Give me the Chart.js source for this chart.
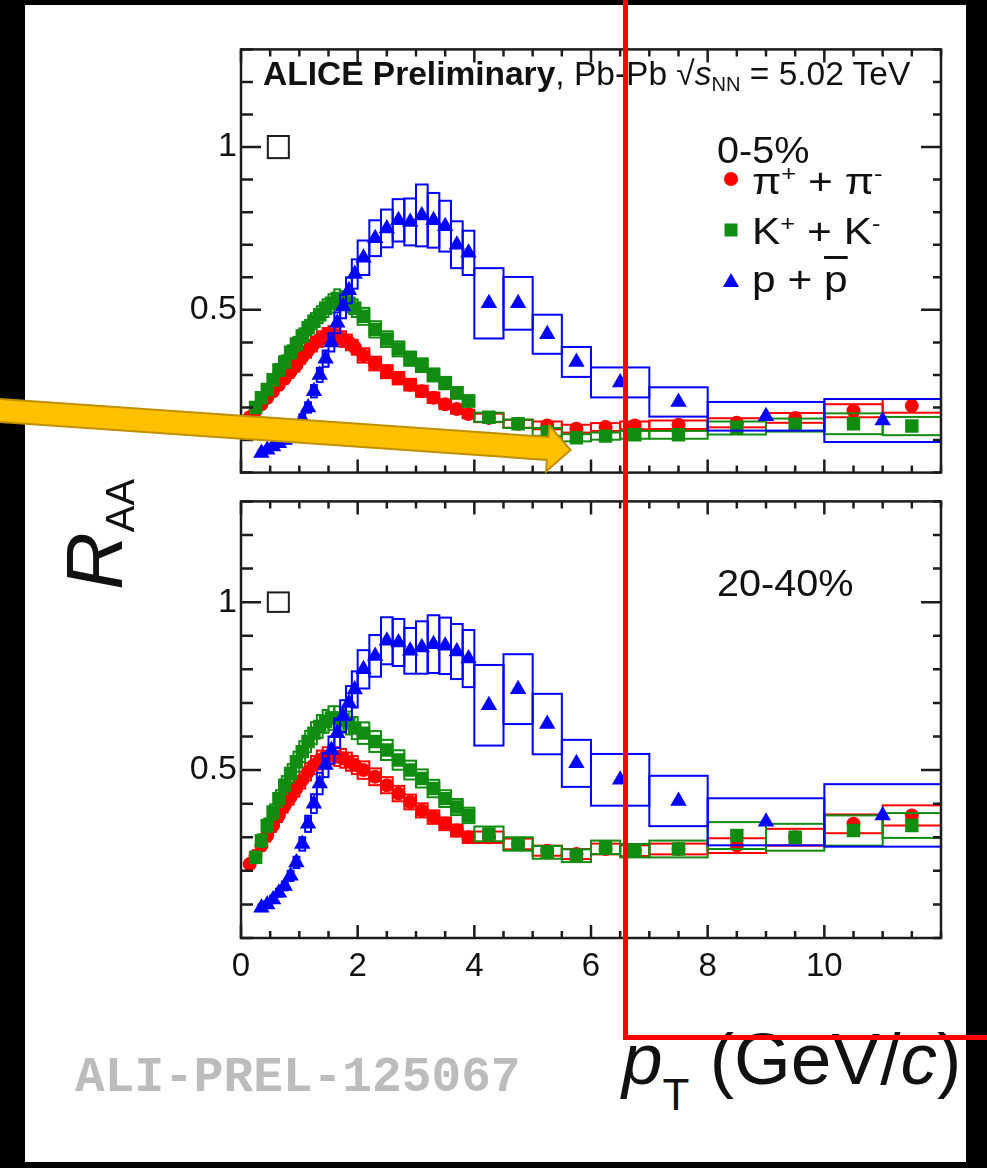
<!DOCTYPE html>
<html>
<head>
<meta charset="utf-8">
<title>RAA of pi, K, p in Pb-Pb at 5.02 TeV</title>
<script src="https://cdn.jsdelivr.net/npm/chart.js@4.4.1/dist/chart.umd.min.js"></script>
<style>
  html, body { margin: 0; padding: 0; }
  body {
    position: relative; width: 987px; height: 1168px; overflow: hidden;
    background: #000; color: #111;
    font-family: "Liberation Sans", Arial, Helvetica, sans-serif;
  }
  #sheet { position: absolute; left: 25px; top: 5px; width: 941px; height: 1157px; background: #fff; }
  canvas { position: absolute; }
  #panel-top { left: 141px; top: 25px; }
  #panel-bottom { left: 141px; top: 477px; }
  .txt { position: absolute; white-space: nowrap; line-height: 1; transform-origin: 0 0; }
  .sup { font-size: 0.6em; position: relative; top: -0.6em; }
  .sub { font-size: 0.6em; position: relative; top: 0.3em; }
  #title { left: 263px; top: 57px; font-size: 33.5px; }
  .cent { left: 717px; font-size: 36px; transform: scaleX(1.1); }
  .entry { left: 752px; font-size: 36px; transform: scaleX(1.18); }
  .bar { text-decoration: overline; text-decoration-thickness: 3px; }
  #ytitle { left: 55px; top: 590px; font-size: 80px; transform: rotate(-90deg); }
  #ytitle .s { font-size: 40px; position: relative; top: 12px; font-style: normal; }
  #xtitle { left: 622px; top: 1022px; font-size: 73px; }
  #xtitle .s { font-size: 44px; position: relative; top: 26px; }
  #alitag { left: 75px; top: 1054px; font-size: 49.5px; font-weight: bold; color: #bcbcbc;
            font-family: "Liberation Mono", "Courier New", monospace; }
  #marks { position: absolute; left: 0; top: 0; }
</style>
</head>
<body>
<div id="sheet"></div>
<canvas id="panel-top" width="810" height="472"></canvas>
<canvas id="panel-bottom" width="810" height="531"></canvas>

<div class="txt" id="title"><b>ALICE Preliminary</b>, Pb-Pb &radic;<i>s</i><span class="sub">NN</span> = 5.02 TeV</div>
<div class="txt cent" style="top:133px">0-5%</div>
<div class="txt entry" style="top:164px">&pi;<span class="sup">+</span> + &pi;<span class="sup">-</span></div>
<div class="txt entry" style="top:214px">K<span class="sup">+</span> + K<span class="sup">-</span></div>
<div class="txt entry" style="top:262px">p + <span class="bar">p</span></div>
<div class="txt cent" style="top:566px">20-40%</div>

<div class="txt" id="ytitle"><i>R</i><span class="s">AA</span></div>
<div class="txt" id="xtitle"><i>p</i><span class="s">T</span> (GeV/<i>c</i>)</div>
<div class="txt" id="alitag">ALI-PREL-125067</div>

<svg id="marks" width="987" height="1168">
  <!-- legend markers -->
  <circle cx="731" cy="179" r="7" fill="#ff0000"/>
  <rect x="724.5" y="223.5" width="13" height="13" fill="#108c10"/>
  <polygon points="731,273 739,287 723,287" fill="#0000ff"/>
  <!-- pointer arrow -->
  <g transform="translate(0 410.5) rotate(3.96)">
    <polygon points="-12,-11.5 549,-11.5 549,-23 572,0 549,23 549,11.5 -12,11.5"
             fill="#ffc000" stroke="#bf9000" stroke-width="2"/>
  </g>
  <!-- highlight frame -->
  <rect x="625.5" y="-20" width="500" height="1057.5" fill="none" stroke="#ff0000" stroke-width="5"/>
</svg>

<script>
const xTickLabels = [0, 2, 4, 6, 8, 10];
const yTickLabels = [0.5, 1];

// pT bin edges, GeV/c
const edgesPi = [0.1, 0.2, 0.3, 0.4, 0.5, 0.6, 0.7, 0.8, 0.9, 1.0, 1.1, 1.2, 1.3, 1.4, 1.5, 1.6, 1.7, 1.8, 1.9, 2.0,
  2.2, 2.4, 2.6, 2.8, 3.0, 3.2, 3.4, 3.6, 3.8, 4.0, 4.5, 5.0, 5.5, 6.0, 6.5, 7.0, 8.0, 9.0, 10.0, 11.0, 12.0];
const edgesK = [0.2, 0.3, 0.4, 0.5, 0.6, 0.7, 0.8, 0.9, 1.0, 1.1, 1.2, 1.3, 1.4, 1.5, 1.6, 1.7, 1.8, 1.9, 2.0,
  2.2, 2.4, 2.6, 2.8, 3.0, 3.2, 3.4, 3.6, 3.8, 4.0, 4.5, 5.0, 5.5, 6.0, 6.5, 7.0, 8.0, 9.0, 10.0, 11.0, 12.0];
const edgesP = [0.3, 0.4, 0.5, 0.6, 0.7, 0.8, 0.9, 1.0, 1.1, 1.2, 1.3, 1.4, 1.5, 1.6, 1.7, 1.8, 1.9, 2.0,
  2.2, 2.4, 2.6, 2.8, 3.0, 3.2, 3.4, 3.6, 3.8, 4.0, 4.5, 5.0, 5.5, 6.0, 7.0, 8.0, 10.0, 12.0];

// 0-5% central
const raaPi05 = [0.17, 0.19, 0.21, 0.23, 0.25, 0.27, 0.29, 0.31, 0.33, 0.355, 0.375, 0.395, 0.41, 0.42, 0.425, 0.42, 0.41, 0.40, 0.385,
  0.36, 0.335, 0.31, 0.29, 0.27, 0.25, 0.23, 0.21, 0.195, 0.18,
  0.168, 0.15, 0.145, 0.135, 0.14, 0.145, 0.147, 0.153, 0.168, 0.19, 0.205];
const sysPi05 = [0.012, 0.013, 0.014, 0.015, 0.016, 0.017, 0.018, 0.019, 0.02, 0.021, 0.022, 0.023, 0.024, 0.024, 0.025, 0.025, 0.024, 0.024, 0.023,
  0.022, 0.021, 0.02, 0.019, 0.018, 0.017, 0.016, 0.015, 0.014, 0.013,
  0.013, 0.012, 0.012, 0.012, 0.012, 0.012, 0.013, 0.014, 0.015, 0.02, 0.021];
const raaK05 = [0.2, 0.23, 0.255, 0.285, 0.315, 0.34, 0.37, 0.395, 0.42, 0.445, 0.465, 0.485, 0.505, 0.52, 0.535, 0.53, 0.52, 0.505,
  0.48, 0.44, 0.41, 0.38, 0.35, 0.33, 0.30, 0.275, 0.245, 0.22,
  0.17, 0.15, 0.125, 0.107, 0.112, 0.116, 0.116, 0.137, 0.146, 0.15, 0.143];
const sysK05 = [0.015, 0.016, 0.017, 0.018, 0.019, 0.02, 0.021, 0.022, 0.023, 0.024, 0.025, 0.026, 0.027, 0.028, 0.028, 0.028, 0.027, 0.027,
  0.026, 0.025, 0.024, 0.023, 0.022, 0.021, 0.02, 0.019, 0.018, 0.017,
  0.014, 0.013, 0.012, 0.011, 0.011, 0.012, 0.012, 0.02, 0.02, 0.032, 0.028];
const raaP05 = [0.06, 0.07, 0.08, 0.09, 0.10, 0.115, 0.135, 0.165, 0.20, 0.25, 0.30, 0.35, 0.40, 0.46, 0.51, 0.56, 0.61,
  0.66, 0.72, 0.75, 0.775, 0.77, 0.79, 0.775, 0.757, 0.70, 0.675,
  0.52, 0.52, 0.425, 0.34, 0.277, 0.217, 0.173, 0.16];
const sysP05 = [0.008, 0.008, 0.009, 0.01, 0.01, 0.011, 0.012, 0.014, 0.016, 0.019, 0.022, 0.025, 0.028, 0.032, 0.036, 0.04, 0.045,
  0.053, 0.055, 0.058, 0.065, 0.072, 0.095, 0.084, 0.078, 0.072, 0.068,
  0.108, 0.081, 0.06, 0.046, 0.046, 0.045, 0.044, 0.066];

// 20-40% semi-central
const raaPi2040 = [0.22, 0.245, 0.275, 0.305, 0.335, 0.365, 0.395, 0.42, 0.445, 0.47, 0.495, 0.515, 0.53, 0.54, 0.545, 0.54, 0.535, 0.525, 0.515,
  0.50, 0.48, 0.455, 0.43, 0.405, 0.38, 0.36, 0.34, 0.32, 0.30,
  0.30, 0.28, 0.26, 0.25, 0.265, 0.26, 0.265, 0.275, 0.30, 0.34, 0.365];
const sysPi2040 = [0.014, 0.015, 0.016, 0.018, 0.019, 0.02, 0.022, 0.023, 0.024, 0.025, 0.026, 0.027, 0.028, 0.028, 0.028, 0.028, 0.028, 0.027, 0.027,
  0.026, 0.025, 0.024, 0.023, 0.022, 0.021, 0.02, 0.019, 0.018, 0.017,
  0.017, 0.016, 0.015, 0.015, 0.016, 0.016, 0.016, 0.022, 0.025, 0.028, 0.03];
const raaK2040 = [0.24, 0.29, 0.335, 0.375, 0.415, 0.455, 0.49, 0.525, 0.555, 0.585, 0.61, 0.63, 0.645, 0.655, 0.655, 0.65, 0.64, 0.625,
  0.61, 0.585, 0.56, 0.53, 0.50, 0.475, 0.445, 0.415, 0.39, 0.365,
  0.31, 0.28, 0.255, 0.245, 0.27, 0.26, 0.265, 0.305, 0.30, 0.32, 0.335];
const sysK2040 = [0.017, 0.019, 0.021, 0.023, 0.025, 0.027, 0.028, 0.03, 0.031, 0.032, 0.033, 0.034, 0.034, 0.035, 0.035, 0.034, 0.034, 0.033,
  0.032, 0.031, 0.03, 0.029, 0.028, 0.027, 0.026, 0.025, 0.024, 0.023,
  0.022, 0.02, 0.019, 0.019, 0.02, 0.02, 0.025, 0.04, 0.04, 0.045, 0.037];
const raaP2040 = [0.09, 0.10, 0.115, 0.135, 0.155, 0.185, 0.225, 0.28, 0.34, 0.40, 0.46, 0.515, 0.56, 0.61, 0.66, 0.70, 0.74,
  0.80, 0.84, 0.885, 0.88, 0.855, 0.865, 0.875, 0.87, 0.853, 0.832,
  0.693, 0.741, 0.637, 0.52, 0.471, 0.408, 0.346, 0.365];
const sysP2040 = [0.01, 0.01, 0.011, 0.012, 0.013, 0.015, 0.017, 0.02, 0.024, 0.028, 0.032, 0.036, 0.04, 0.044, 0.048, 0.05, 0.054,
  0.057, 0.062, 0.07, 0.07, 0.068, 0.078, 0.086, 0.084, 0.082, 0.085,
  0.12, 0.104, 0.09, 0.07, 0.077, 0.075, 0.07, 0.093];

// normalisation uncertainty box drawn at R_AA = 1
const normUnc05 = 0.034;
const normUnc2040 = 0.029;
const normBoxPt = [0.46, 0.82];

const fontFamily = '"Liberation Sans", Arial, Helvetica, sans-serif';
const piColor = "#ff0000";
const kColor = "#108c10";
const pColor = "#0000ff";

function toPoints(edges, raa) {
  return raa.map((v, i) => ({ x: (edges[i] + edges[i + 1]) / 2, y: v }));
}

function isLabel(list, v) {
  return list.some(l => Math.abs(l - v) < 1e-6);
}

// open boxes for the systematic uncertainties, drawn just under each marker set
const sysBoxes = {
  id: "sysBoxes",
  beforeDatasetDraw(chart, args) {
    const ds = chart.data.datasets[args.index];
    if (!ds.sys) return;
    const { ctx, chartArea: a, scales: { x, y } } = chart;
    ctx.save();
    ctx.beginPath();
    ctx.rect(a.left, a.top, a.width, a.height);
    ctx.clip();
    ctx.strokeStyle = ds.borderColor;
    ctx.lineWidth = 2;
    ds.data.forEach((p, i) => {
      const x0 = x.getPixelForValue(ds.edges[i]);
      const x1 = x.getPixelForValue(ds.edges[i + 1]);
      const y0 = y.getPixelForValue(p.y + ds.sys[i]);
      const y1 = y.getPixelForValue(p.y - ds.sys[i]);
      ctx.strokeRect(x0, y0, x1 - x0, y1 - y0);
    });
    ctx.restore();
  }
};

// ROOT style frame: ticks pointing inwards on all four sides
const rootFrame = {
  id: "rootFrame",
  afterDraw(chart, args, opts) {
    const { ctx, chartArea: a, scales: { x, y } } = chart;
    ctx.save();
    ctx.strokeStyle = "#1c1c1c";
    ctx.lineWidth = 2;
    const bx0 = x.getPixelForValue(normBoxPt[0]);
    const bx1 = x.getPixelForValue(normBoxPt[1]);
    const by0 = y.getPixelForValue(1 + opts.norm);
    const by1 = y.getPixelForValue(1 - opts.norm);
    ctx.strokeRect(bx0, by0, bx1 - bx0, by1 - by0);

    ctx.lineWidth = 2.5;
    ctx.strokeRect(a.left, a.top, a.width, a.height);
    ctx.beginPath();
    x.ticks.forEach(t => {
      const px = x.getPixelForValue(t.value);
      const len = isLabel(xTickLabels, t.value) ? 13 : 7;
      ctx.moveTo(px, a.bottom);
      ctx.lineTo(px, a.bottom - len);
      ctx.moveTo(px, a.top);
      ctx.lineTo(px, a.top + len);
    });
    y.ticks.forEach(t => {
      const py = y.getPixelForValue(t.value);
      const major = isLabel(yTickLabels, t.value);
      ctx.moveTo(a.left, py);
      ctx.lineTo(a.left + (major ? 20 : 12), py);
      ctx.moveTo(a.right, py);
      ctx.lineTo(a.right - (major ? 20 : 8), py);
    });
    ctx.stroke();
    ctx.restore();
  }
};

function makePanel(canvasId, series, norm, showX, xHeight, padding) {
  const datasets = [
    { label: "pi", data: toPoints(edgesPi, series.pi), edges: edgesPi, sys: series.piSys,
      pointStyle: "circle", pointRadius: 7, backgroundColor: piColor, borderColor: piColor, order: 2 },
    { label: "K", data: toPoints(edgesK, series.k), edges: edgesK, sys: series.kSys,
      pointStyle: "rect", pointRadius: 9.5, backgroundColor: kColor, borderColor: kColor, order: 1 },
    { label: "p", data: toPoints(edgesP, series.p), edges: edgesP, sys: series.pSys,
      pointStyle: "triangle", pointRadius: 9.5, backgroundColor: pColor, borderColor: pColor, order: 0 }
  ].map(d => Object.assign(d, { showLine: false, pointBorderWidth: 0, pointHoverRadius: d.pointRadius }));

  return new Chart(document.getElementById(canvasId), {
    type: "scatter",
    data: { datasets },
    plugins: [sysBoxes, rootFrame],
    options: {
      responsive: false,
      animation: false,
      events: [],
      layout: { padding },
      plugins: {
        legend: { display: false },
        tooltip: { enabled: false },
        rootFrame: { norm }
      },
      scales: {
        x: {
          type: "linear", min: 0, max: 12,
          grid: { display: false, drawTicks: false },
          border: { display: false },
          ticks: {
            display: showX, stepSize: 0.5, autoSkip: false, maxRotation: 0, padding: 9,
            color: "#111", font: { family: fontFamily, size: 33 },
            callback: v => (isLabel(xTickLabels, v) ? String(v) : "")
          },
          afterFit: s => { s.height = xHeight; }
        },
        y: {
          type: "linear", min: 0, max: 1.3,
          grid: { display: false, drawTicks: false },
          border: { display: false },
          ticks: {
            stepSize: 0.1, autoSkip: false, padding: 4,
            color: "#111", font: { family: fontFamily, size: 34 },
            callback: v => (isLabel(yTickLabels, v) ? String(v) : "")
          },
          afterFit: s => { s.width = 100; }
        }
      }
    }
  });
}

makePanel("panel-top",
  { pi: raaPi05, piSys: sysPi05, k: raaK05, kSys: sysK05, p: raaP05, pSys: sysP05 },
  normUnc05, false, 0, { top: 10, right: 10, bottom: 10, left: 0 });

makePanel("panel-bottom",
  { pi: raaPi2040, piSys: sysPi2040, k: raaK2040, kSys: sysK2040, p: raaP2040, pSys: sysP2040 },
  normUnc2040, true, 70, { top: 10, right: 10, bottom: 0, left: 0 });
</script>
</body>
</html>
